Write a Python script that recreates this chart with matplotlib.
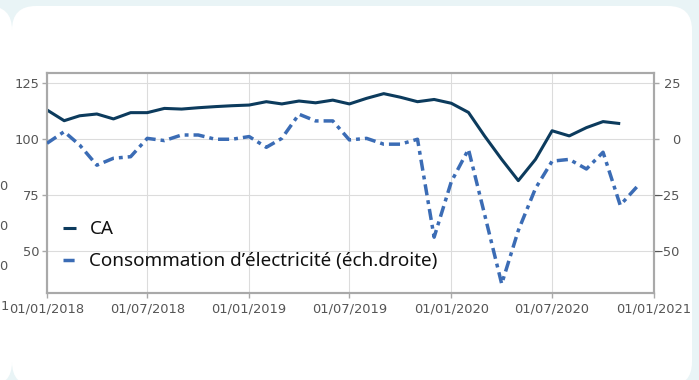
import pandas as pd
import matplotlib.pyplot as plt
import matplotlib.dates as mdates
from matplotlib.patches import FancyBboxPatch

plt.rcParams['font.family'] = ['Noto Sans', 'DejaVu Sans']
plt.rcParams['lines.scale_dashes'] = False

# Monthly series, Jan 2018 onwards
ca_values = [113.1, 108.3, 110.5, 111.3, 109.1, 111.9, 111.9, 113.8, 113.5, 114.1, 114.6, 115.0,
             115.3, 116.8, 115.8, 117.1, 116.3, 117.5, 115.8, 118.3, 120.4, 118.8, 116.8, 117.8,
             116.1, 112.0, 101.5, 91.0, 81.5, 91.0, 103.8, 101.5, 105.2, 107.9, 107.0]
elec_values = [-1.8, 3.4, -2.6, -11.6, -8.5, -7.8, 0.4, -0.6, 1.9, 1.9, 0.0, 0.0,
               1.2, -3.6, 0.4, 11.2, 8.2, 8.2, -0.3, 0.4, -2.2, -2.2, 0.0, -43.8,
               -19.0, -4.5, -33.5, -64.7, -40.8, -22.0, -9.8, -9.0, -13.3, -5.8, -29.5, -21.3]
ca_dates = pd.date_range("2018-01-01", periods=len(ca_values), freq="MS")
elec_dates = pd.date_range("2018-01-01", periods=len(elec_values), freq="MS")

left_ticks = [50, 75, 100, 125]
right_ticks = [-50, -25, 0, 25]
x_ticks = pd.date_range("2018-01-01", "2021-01-01", freq="6MS")

ca_color = "#0c3b5d"
elec_color = "#3b6cb5"
frame_color = "#a9a9a9"
grid_color = "#dcdcdc"
label_color = "#555555"
tick_font = "DejaVu Sans"

W, H = 699, 380
fig = plt.figure(figsize=(W / 100, H / 100), dpi=100)
fig.patch.set_facecolor("#e9f4f6")

# page background with the cards, in pixel units
bg = fig.add_axes([0, 0, 1, 1])
bg.set_xlim(0, W)
bg.set_ylim(H, 0)
bg.axis("off")
bg.add_patch(FancyBboxPatch((-300, 6), 312, 380, boxstyle="round,pad=0,rounding_size=24",
                            fc="white", ec="none"))
bg.add_patch(FancyBboxPatch((12, 6), 680, 380, boxstyle="round,pad=0,rounding_size=24",
                            fc="white", ec="none"))
for yy in [187, 227, 267]:
    bg.text(7.5, yy, "0", ha="right", va="center", fontsize=9.4, color=label_color,
            family=tick_font)
bg.text(8.5, 307, "1", ha="right", va="center", fontsize=9.4, color=label_color,
        family=tick_font)

# chart area
x0, x1, y0, y1 = 47, 654, 73.3, 293.3
ax = fig.add_axes([x0 / W, 1 - y1 / H, (x1 - x0) / W, (y1 - y0) / H])
ax.set_facecolor("none")
ax2 = ax.twinx()

l1, = ax.plot(ca_dates, ca_values, color=ca_color, lw=2.2, solid_capstyle="butt", zorder=3)
l2, = ax2.plot(elec_dates, elec_values, color=elec_color, lw=2.5,
               dashes=(8, 3.6, 2.8, 3.6), dash_capstyle="butt", zorder=3)

ax.set_xlim(pd.Timestamp("2018-01-01"), pd.Timestamp("2021-01-01"))
ax.set_ylim(31.1, 129.5)
ax2.set_ylim(-68.9, 29.5)
ax.set_yticks(left_ticks)
ax2.set_yticks(right_ticks)
ax.set_xticks(x_ticks)
ax.xaxis.set_major_formatter(mdates.DateFormatter("%d/%m/%Y"))

ax.grid(True, color=grid_color, lw=0.8)
ax.set_axisbelow(True)

for a in (ax, ax2):
    for s in a.spines.values():
        s.set_color(frame_color)
        s.set_linewidth(1.5)
    a.tick_params(colors=frame_color, labelcolor=label_color, length=3.5, width=1,
                  labelsize=9.4)
    for t in a.get_xticklabels() + a.get_yticklabels():
        t.set_family(tick_font)
ax.tick_params(axis="x", pad=3)
ax.tick_params(axis="y", pad=2)
ax2.tick_params(axis="y", pad=15.5)
for t in ax2.get_yticklabels():
    t.set_horizontalalignment("right")

leg = ax2.legend([l1, l2], ["CA", "Consommation d\u2019électricité (éch.droite)"],
                 loc="center left", bbox_to_anchor=((63 - x0) / (x1 - x0), (y1 - 245.4) / (y1 - y0)),
                 frameon=False, fontsize=13.6, handlelength=0.7, handletextpad=0.7,
                 borderpad=0, borderaxespad=0, labelspacing=0.74)
for t in leg.get_texts():
    t.set_color("#111111")

fig.savefig("out.png", dpi=100, facecolor=fig.get_facecolor())
